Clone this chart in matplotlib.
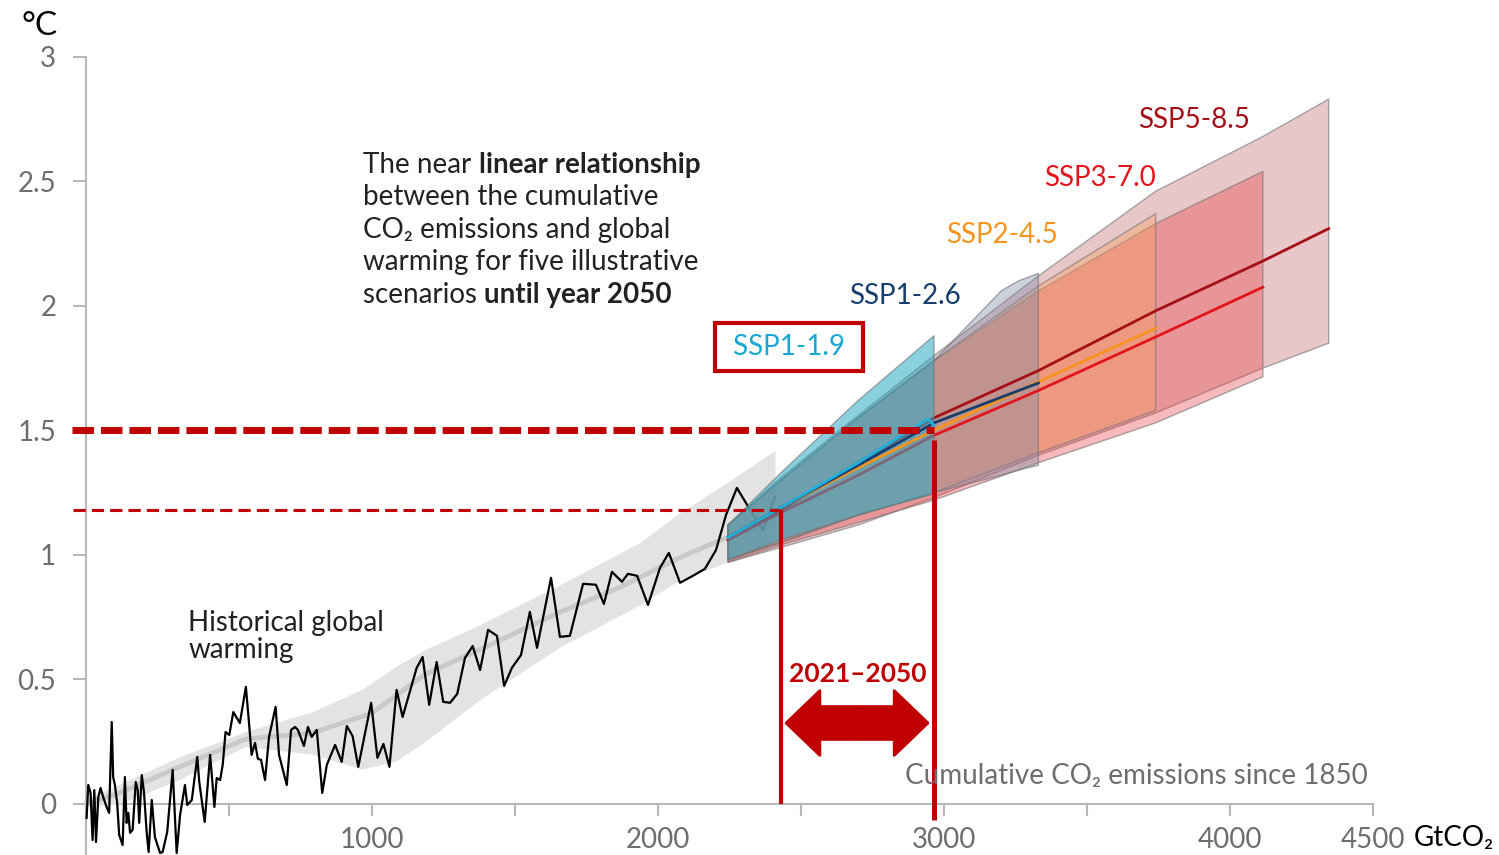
import matplotlib.pyplot as plt
import matplotlib.patches as mpatches

plt.rcParams['font.family'] = ['Lato', 'DejaVu Sans']

# observed warming vs cumulative CO2 (GtCO2, degC)
hist_x = [2, 8, 16, 23, 29, 35, 43, 51, 60, 72, 81, 90, 95, 101, 109, 116, 128, 136, 142, 148,
          154, 163, 174, 181, 186, 195, 203, 212, 219, 230, 241, 259, 268, 284, 303, 317, 329, 346,
          354, 370, 389, 396, 415, 434, 449, 457, 469, 478, 488, 501, 515, 538, 559, 570, 579, 591,
          601, 612, 626, 640, 663, 675, 702, 717, 731, 741, 762, 776, 789, 807, 826, 842, 871, 894,
          912, 932, 952, 997, 1019, 1040, 1061, 1086, 1107, 1156, 1177, 1200, 1226, 1249, 1273,
          1298, 1325, 1352, 1378, 1406, 1437, 1462, 1489, 1521, 1552, 1577, 1626, 1657, 1692,
          1738, 1783, 1811, 1839, 1874, 1895, 1927, 1965, 2007, 2038, 2077, 2122, 2164, 2203,
          2238, 2276, 2322, 2367, 2409]
hist_y = [-0.056, 0.076, 0.044, -0.145, 0.056, -0.153, 0.028, 0.064, 0.028, -0.012, -0.036, 0.329,
          0.108, 0.076, 0.004, -0.124, -0.165, 0.108, -0.076, -0.036, -0.116, -0.104, 0.088, 0.056,
          -0.076, 0.116, 0.044, -0.112, -0.193, 0.016, -0.133, -0.197, -0.193, -0.112, 0.137,
          -0.197, -0.044, 0.076, -0.004, 0.016, 0.189, 0.088, -0.072, 0.197, -0.012, 0.104, 0.096,
          0.157, 0.289, 0.277, 0.369, 0.325, 0.470, 0.325, 0.197, 0.245, 0.181, 0.177, 0.096,
          0.269, 0.390, 0.197, 0.076, 0.297, 0.309, 0.297, 0.233, 0.309, 0.269, 0.297, 0.044,
          0.157, 0.237, 0.169, 0.313, 0.273, 0.149, 0.406, 0.185, 0.241, 0.149, 0.458, 0.349,
          0.546, 0.590, 0.398, 0.570, 0.410, 0.406, 0.442, 0.586, 0.634, 0.538, 0.699, 0.675,
          0.474, 0.546, 0.598, 0.771, 0.627, 0.908, 0.671, 0.675, 0.884, 0.880, 0.803, 0.932,
          0.892, 0.924, 0.916, 0.799, 0.948, 1.008, 0.888, 0.916, 0.944, 1.020, 1.161, 1.269,
          1.181, 1.100, 1.233]

smooth_x = [0, 119, 329, 556, 790, 1000, 1185, 1378, 1657, 1867, 2077, 2241]
smooth_y = [0.0, 0.045, 0.15, 0.26, 0.285, 0.365, 0.52, 0.62, 0.77, 0.87, 0.99, 1.07]

band_x = [0, 119, 329, 556, 790, 965, 1080, 1185, 1378, 1657, 1937, 2077, 2241, 2409]
band_lo = [-0.01, 0.0, 0.10, 0.23, 0.20, 0.14, 0.17, 0.25, 0.42, 0.63, 0.80, 0.90, 0.97, 1.05]
band_hi = [0.02, 0.08, 0.19, 0.29, 0.37, 0.46, 0.55, 0.62, 0.72, 0.88, 1.05, 1.17, 1.29, 1.42]

# scenarios
ssp585_x = [2245, 2430, 2700, 2965, 3330, 3740, 4115, 4345]
ssp585_lo = [0.97, 1.03, 1.12, 1.23, 1.40, 1.57, 1.75, 1.85]
ssp585_hi = [1.12, 1.31, 1.56, 1.80, 2.12, 2.46, 2.68, 2.83]
ssp585_med = [1.06, 1.18, 1.37, 1.55, 1.74, 1.98, 2.18, 2.31]

ssp370_x = [2245, 2430, 2700, 2965, 3330, 3740, 4115]
ssp370_lo = [0.97, 1.04, 1.13, 1.22, 1.37, 1.53, 1.715]
ssp370_hi = [1.12, 1.30, 1.55, 1.78, 2.06, 2.33, 2.54]
ssp370_med = [1.06, 1.17, 1.32, 1.48, 1.66, 1.875, 2.075]

ssp245_x = [2245, 2430, 2700, 2965, 3330, 3740]
ssp245_lo = [0.98, 1.05, 1.16, 1.25, 1.41, 1.58]
ssp245_hi = [1.12, 1.30, 1.55, 1.78, 2.08, 2.37]
ssp245_med = [1.07, 1.19, 1.35, 1.50, 1.695, 1.91]

ssp126_x = [2245, 2430, 2700, 2965, 3200, 3260, 3330]
ssp126_lo = [0.98, 1.05, 1.16, 1.25, 1.32, 1.34, 1.36]
ssp126_hi = [1.12, 1.30, 1.55, 1.78, 2.06, 2.10, 2.13]
ssp126_med_x = [2245, 2430, 2700, 2965, 3330]
ssp126_med = [1.07, 1.19, 1.36, 1.53, 1.69]

ssp119_x = [2245, 2430, 2700, 2965]
ssp119_lo = [0.98, 1.06, 1.16, 1.245]
ssp119_hi = [1.12, 1.33, 1.62, 1.88]
ssp119_med_x = [2245, 2430, 2700, 2880, 2945, 2965]
ssp119_med = [1.07, 1.19, 1.37, 1.50, 1.545, 1.52]

emis_2020, warm_2020 = 2430, 1.18
emis_2050, warm_limit = 2965, 1.5

x_ticks = [500, 1000, 1500, 2000, 2500, 3000, 3500, 4000, 4500]
x_labels = ['', '1000', '', '2000', '', '3000', '', '4000', '4500']
y_ticks = [0, 0.5, 1, 1.5, 2, 2.5, 3]
y_labels = ['0', '0.5', '1', '1.5', '2', '2.5', '3']

RED = '#c00000'
GREY = '#6e6e6e'
AX = '#b8b8b8'
EDGE = (0.45, 0.45, 0.45, 0.6)


def main():
	fig = plt.figure(figsize=(14.99, 8.55), dpi=100)
	ax = fig.add_axes([0, 0, 1, 1])
	ax.set_xlim(-300.7, 4940.6)
	ax.set_ylim(-0.205, 3.228)

	for s in ['top', 'right']:
		ax.spines[s].set_visible(False)
	ax.spines['left'].set_position(('data', 0))
	ax.spines['bottom'].set_position(('data', 0))
	ax.spines['left'].set_bounds(-0.3, 3)
	ax.spines['bottom'].set_bounds(0, 4500)
	for s in ['left', 'bottom']:
		ax.spines[s].set_color(AX)
		ax.spines[s].set_linewidth(1.5)
		ax.spines[s].set_zorder(0.5)

	ax.set_xticks(x_ticks)
	ax.set_xticklabels(x_labels)
	ax.set_yticks(y_ticks)
	ax.set_yticklabels(y_labels)
	ax.tick_params(axis='y', length=9.4, width=1.5, color=AX, labelcolor=GREY, labelsize=20, pad=12)
	ax.tick_params(axis='x', length=8.6, width=1.5, color=AX, labelcolor=GREY, labelsize=20, pad=8)
	for lab in ax.get_yticklabels():
		lab.set_verticalalignment('center_baseline')

	# historical
	ax.fill_between(band_x, band_lo, band_hi, color='#e3e3e3', lw=0, zorder=1)
	ax.plot(smooth_x, smooth_y, color='#c9c9c9', lw=3.5, zorder=2, solid_capstyle='round')
	ax.plot(hist_x, hist_y, color='black', lw=1.6, zorder=3)

	# scenario ranges
	ax.fill_between(ssp585_x, ssp585_lo, ssp585_hi, facecolor='#b5474f', alpha=0.3, zorder=4)
	ax.fill_between(ssp585_x, ssp585_lo, ssp585_hi, facecolor='none', edgecolor=EDGE, lw=1, zorder=4)
	ax.fill_between(ssp370_x, ssp370_lo, ssp370_hi, facecolor='#e8383f', alpha=0.35, zorder=4.1)
	ax.fill_between(ssp370_x, ssp370_lo, ssp370_hi, facecolor='none', edgecolor=EDGE, lw=1, zorder=4.1)
	ax.fill_between(ssp245_x, ssp245_lo, ssp245_hi, facecolor='#f7a160', alpha=0.4, zorder=4.2)
	ax.fill_between(ssp245_x, ssp245_lo, ssp245_hi, facecolor='none', edgecolor=EDGE, lw=1, zorder=4.2)
	ax.fill_between(ssp126_x, ssp126_lo, ssp126_hi, facecolor='#7d8aa6', alpha=0.4, zorder=4.3)
	ax.fill_between(ssp126_x, ssp126_lo, ssp126_hi, facecolor='none', edgecolor=EDGE, lw=1, zorder=4.3)
	ax.plot(ssp585_x, ssp585_med, color='#a50f15', lw=2, zorder=4.5)
	ax.plot(ssp370_x, ssp370_med, color='#e3141b', lw=2, zorder=4.5)
	ax.fill_between(ssp119_x, ssp119_lo, ssp119_hi, facecolor='#2aaac4', alpha=0.55, zorder=4.6)
	ax.fill_between(ssp119_x, ssp119_lo, ssp119_hi, facecolor='none', edgecolor=EDGE, lw=1, zorder=4.6)
	ax.plot(ssp245_x, ssp245_med, color='#f7941d', lw=2, zorder=5)
	ax.plot(ssp126_med_x, ssp126_med, color='#163e6e', lw=2, zorder=5)
	ax.plot(ssp119_med_x, ssp119_med, color='#1fb0dc', lw=2, zorder=5)

	# 1.5 degC and 2020 markers
	ax.hlines(warm_limit, -50, emis_2050, colors=RED, lw=5, linestyles=(0, (3.1, 1.0)), zorder=8)
	ax.hlines(warm_2020, -45, emis_2020, colors=RED, lw=2.2, linestyles=(0, (4, 2)), zorder=8)
	ax.vlines(emis_2020, 0, warm_2020, colors=RED, lw=3, zorder=8)
	ax.vlines(emis_2050, -0.065, 1.46, colors=RED, lw=3.6, zorder=8)

	# double arrow 2021-2050
	mid = 2696
	for d in [-248, 248]:
		ax.add_patch(mpatches.FancyArrow(mid, 0.325, d, 0, width=0.132, head_width=0.26,
										 head_length=118, length_includes_head=True,
										 facecolor=RED, edgecolor=RED, lw=2, joinstyle='round', zorder=9))
	ax.text(2699, 0.522, '2021\u20132050', color=RED, fontsize=19, fontweight='bold',
			ha='center', va='center', zorder=9)

	# scenario labels
	ax.text(3874, 2.747, 'SSP5-8.5', color='#a50f15', fontsize=20, ha='center', va='center')
	ax.text(3545, 2.514, 'SSP3-7.0', color='#e3141b', fontsize=20, ha='center', va='center')
	ax.text(3203, 2.285, 'SSP2-4.5', color='#f7941d', fontsize=20, ha='center', va='center')
	ax.text(2864, 2.040, 'SSP1-2.6', color='#163e6e', fontsize=20, ha='center', va='center')
	ax.text(2458, 1.835, ' SSP1-1.9 ', color='#1aa7d6', fontsize=20, ha='center', va='center',
			bbox=dict(boxstyle='square,pad=0.4', facecolor='white', edgecolor=RED, lw=3))

	# annotation block
	tk = dict(fontsize=20, color='#222222')
	t = ax.text(969, 2.534, 'The near ', va='baseline', **tk)
	ax.annotate('linear relationship', xy=(1, 0), xycoords=t, va='bottom', fontweight='bold', **tk)
	ax.text(969, 2.404, 'between the cumulative', va='baseline', **tk)
	ax.text(969, 2.273, 'CO\u2082 emissions and global', va='baseline', **tk)
	ax.text(969, 2.143, 'warming for five illustrative', va='baseline', **tk)
	t = ax.text(969, 2.012, 'scenarios ', va='baseline', **tk)
	ax.annotate('until year 2050', xy=(1, 0), xycoords=t, va='bottom', fontweight='bold', **tk)

	ax.text(357, 0.695, 'Historical global', va='baseline', fontsize=20, color='#222222')
	ax.text(357, 0.586, 'warming', va='baseline', fontsize=20, color='#222222')

	ax.text(4483, 0.112, 'Cumulative CO\u2082 emissions since 1850', color=GREY, fontsize=20,
			ha='right', va='center', zorder=10)
	ax.text(4643, -0.137, 'GtCO\u2082', color='black', fontsize=20, ha='left', va='center')
	ax.text(-161, 3.125, '\u00b0C', color='black', fontsize=24, ha='center', va='center')

	fig.savefig('out.png', dpi=100)


if __name__ == "__main__":
	main()
